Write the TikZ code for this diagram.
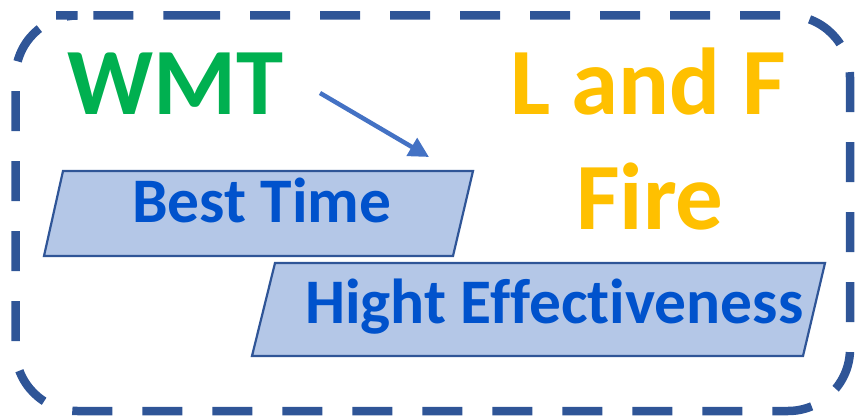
\documentclass[tikz,border=0pt]{standalone}
\usepackage{fontspec}
\setmainfont[Ligatures=NoCommon]{Carlito}
\usetikzlibrary{arrows.meta}
\definecolor{frameblue}{HTML}{2F5597}
\definecolor{boxfill}{HTML}{B4C7E7}
\definecolor{txtblue}{RGB}{0,82,204}
\definecolor{wmtgreen}{HTML}{00B050}
\definecolor{lfgold}{HTML}{FFC000}
\definecolor{arrowblue}{HTML}{4472C4}
\tikzset{
  bigtxt/.style={inner sep=0pt, anchor=base west, font=\bfseries\fontsize{95}{100}\selectfont},
  boxtxt/.style={inner sep=0pt, anchor=base west, text=txtblue, font=\bfseries\fontsize{63.5}{70}\selectfont},
  slantbox/.style={draw=frameblue, fill=boxfill, line width=2.2pt, line join=miter},
  outerframe/.style={draw=frameblue, line width=8.5pt, dash pattern=on 40pt off 30pt, rounded corners=62pt},
  pointer/.style={draw=arrowblue, line width=4.5pt, -{Triangle[length=20pt,width=20pt]}}
}
\begin{document}
\begin{tikzpicture}[x=1pt,y=-1pt]
\useasboundingbox (0,0) rectangle (856,417);
% outer dashed frame
\draw[outerframe, dash phase=0pt] (118,15.5) -- (850,15.5) -- (850,411) -- (15.5,411) -- (15.5,15.5) -- cycle;
% slanted boxes
\path[slantbox] (63,171) -- (473,171) -- (453,256) -- (44,256) -- cycle;
\path[slantbox] (275,263) -- (825,263) -- (803,356) -- (252,356) -- cycle;
% texts
\node[bigtxt, text=wmtgreen] (wmt) at (67,115) {WMT};
\node[bigtxt, text=lfgold] (lf) at (510,114) {L and F};
\node[bigtxt, text=lfgold] (fire) at (576,229) {Fire};
\node[boxtxt] (best) at (132,222) {Best Time};
\node[boxtxt] (high) at (305,323) {Hight Effectiveness};
% arrow
\coordinate (a1) at (320,93);
\coordinate (a2) at (429,157);
\draw[pointer] (a1) -- (a2);
\end{tikzpicture}
\end{document}
